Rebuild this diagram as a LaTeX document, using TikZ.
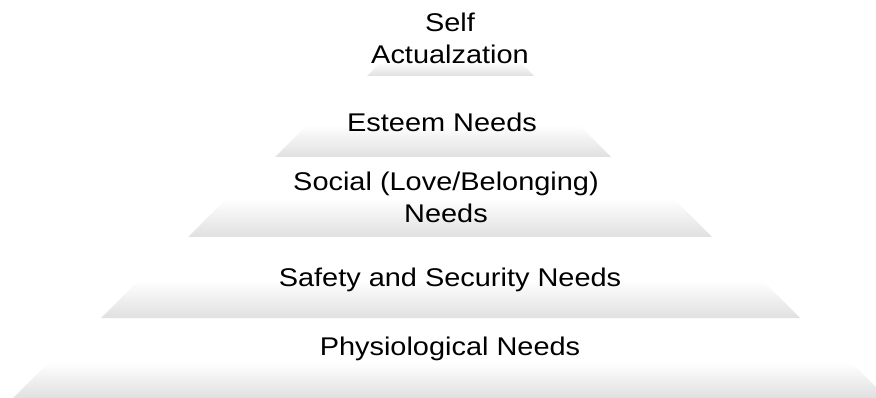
\documentclass[tikz,border=0pt]{standalone}
\usepackage{fontspec}
\setmainfont{Liberation Sans}
\definecolor{lvlgray}{RGB}{224,224,224}
\begin{document}
\begin{tikzpicture}[x=1pt,y=-1pt,
  level/.style={top color=white,bottom color=lvlgray,draw=none},
  lvltext/.style={font=\fontsize{25.6}{31.6}\selectfont,xscale=1.13,anchor=base,inner sep=0pt,text=black}]
\useasboundingbox (0,0) rectangle (876,398);
\clip (0,0) rectangle (876,398);
% levels: top y, bottom y, bottom-left x, bottom-right x (45 degree sides)
\path[level] (367,76) -- (381,62) -- (520,62) -- (534,76) -- cycle;
\path[level] (275,157) -- (307,125) -- (579,125) -- (611,157) -- cycle;
\path[level] (188,237) -- (227,198) -- (673,198) -- (712,237) -- cycle;
\path[level] (101,318) -- (139,280) -- (762,280) -- (800,318) -- cycle;
\path[level] (13,398) -- (49,362) -- (851,362) -- (887,398) -- cycle;
% texts
\node[lvltext] (self) at (450,31.7) {\begin{tabular}[t]{@{}c@{}}Self\\Actualzation\end{tabular}};
\node[lvltext] (esteem) at (442,131.5) {Esteem Needs};
\node[lvltext] (social) at (446,190.5) {\begin{tabular}[t]{@{}c@{}}Social (Love/Belonging)\\Needs\end{tabular}};
\node[lvltext] (safety) at (450,286.7) {Safety and Security Needs};
\node[lvltext] (physio) at (450,355) {Physiological Needs};
\end{tikzpicture}
\end{document}
